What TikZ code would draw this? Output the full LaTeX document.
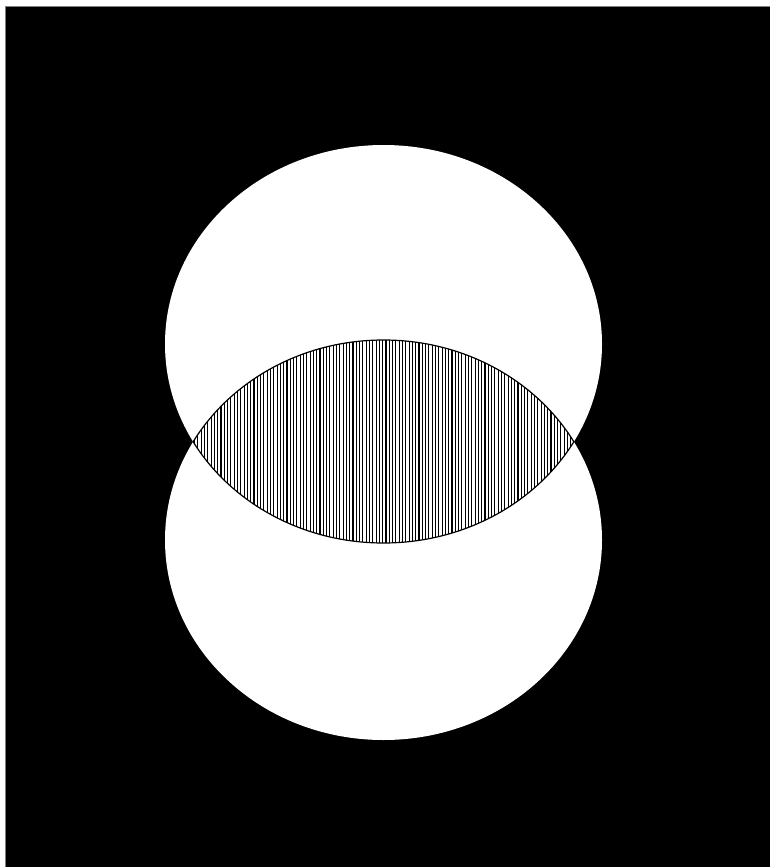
\documentclass[tikz,border=0pt]{standalone}
\usepackage{tikz}

\begin{document}
\begin{tikzpicture}[
  x=1pt,y=-1pt,
  disc/.style={fill=white},
  hatchline/.style={black,line width=1.1pt},
  lensedge/.style={draw=black,line width=1.2pt}
]
  \useasboundingbox (0,0) rectangle (769,867);
  % background
  \fill[white] (0,0) rectangle (769,867);
  \draw[fill=black,draw=gray,line width=0.8pt] (5.5,6) rectangle (770,868);
  % two discs
  \fill[disc] (383.5,344) ellipse [x radius=218.5,y radius=199];
  \fill[disc] (383.5,540) ellipse [x radius=218.5,y radius=200];
  % hatched overlap
  \begin{scope}
    \clip (383.5,344) ellipse [x radius=218.5,y radius=199];
    \clip (383.5,540) ellipse [x radius=218.5,y radius=200];
    \foreach \x in {188,191.3,...,582}
      \draw[hatchline] (\x,330) -- (\x,556);
  \end{scope}
  % lens outline
  \begin{scope}
    \clip (383.5,540) ellipse [x radius=218.5,y radius=200];
    \draw[lensedge] (383.5,344) ellipse [x radius=218.5,y radius=199];
  \end{scope}
  \begin{scope}
    \clip (383.5,344) ellipse [x radius=218.5,y radius=199];
    \draw[lensedge] (383.5,540) ellipse [x radius=218.5,y radius=200];
  \end{scope}
\end{tikzpicture}
\end{document}
